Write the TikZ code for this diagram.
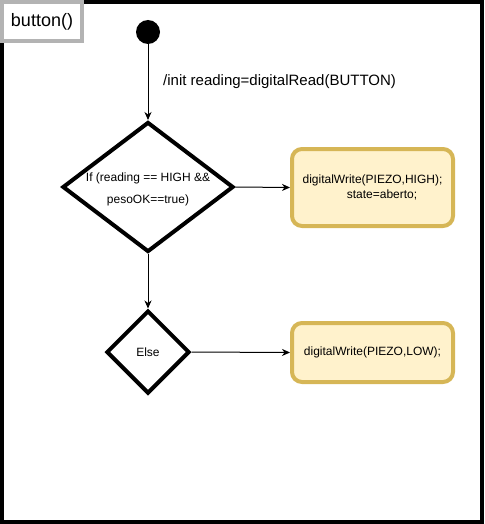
\documentclass[tikz,border=0pt]{standalone}
\usepackage{fontspec}
\setmainfont{Liberation Sans}
\usetikzlibrary{shapes.geometric,arrows.meta}
\definecolor{boxfill}{HTML}{FFF2CC}
\definecolor{boxborder}{HTML}{D6B656}
\definecolor{tabgray}{HTML}{B3B3B3}
\begin{document}
\begin{tikzpicture}[x=1pt,y=-1pt,
  decision/.style={diamond,draw=black,line width=4pt,fill=white,inner sep=0pt},
  actionbox/.style={rectangle,rounded corners=10pt,draw=boxborder,fill=boxfill,line width=4pt,inner sep=0pt},
  conn/.style={line width=1pt,-{Stealth[length=8pt,width=7pt,inset=2.5pt]}},
  txt/.style={font=\fontsize{12}{15}\selectfont,inner sep=0pt,align=center}]
\useasboundingbox (0,0) rectangle (484,524);
% frame
\draw[line width=3.5pt] (2,2) rectangle (482,522);
\draw[draw=tabgray,fill=white,line width=4pt] (2,2) rectangle (82,41);
\node[inner sep=0pt,font=\fontsize{18}{20}\selectfont] (title) at (42,21.5) {button()};
% start
\node[circle,fill=black,minimum size=24pt,inner sep=0pt] (start) at (148,32) {};
% decisions
\node[decision,minimum width=171pt,minimum height=130pt] (d1) at (148,187) {};
\node[txt,font=\fontsize{12}{22}\selectfont] (d1t) at (148,189) {If (reading == HIGH \&\&\\pesoOK==true)};
\node[decision,minimum width=83pt,minimum height=83pt] (d2) at (148,352) {};
\node[txt] (d2t) at (d2.center) {Else};
% actions
\node[actionbox,minimum width=161pt,minimum height=77pt] (a1) at (372.5,187.5) {};
\node[txt] (a1t) at (a1.center) {digitalWrite(PIEZO,HIGH);\\\hspace*{19pt}state=aberto;};
\node[actionbox,minimum width=161pt,minimum height=59pt] (a2) at (372.5,352.5) {};
\node[txt] (a2t) at (a2.center) {digitalWrite(PIEZO,LOW);};
% connectors
\draw[conn] (start) -- (d1.north);
\node[anchor=west,inner sep=0pt,font=\fontsize{15}{18}\selectfont] (initlbl) at (163,82) {/init reading=digitalRead(BUTTON)};
\draw[conn] (d1.east) -- (a1.west);
\draw[conn] (d1.south) -- (d2.north);
\draw[conn] (d2.east) -- (a2.west);
\end{tikzpicture}
\end{document}
